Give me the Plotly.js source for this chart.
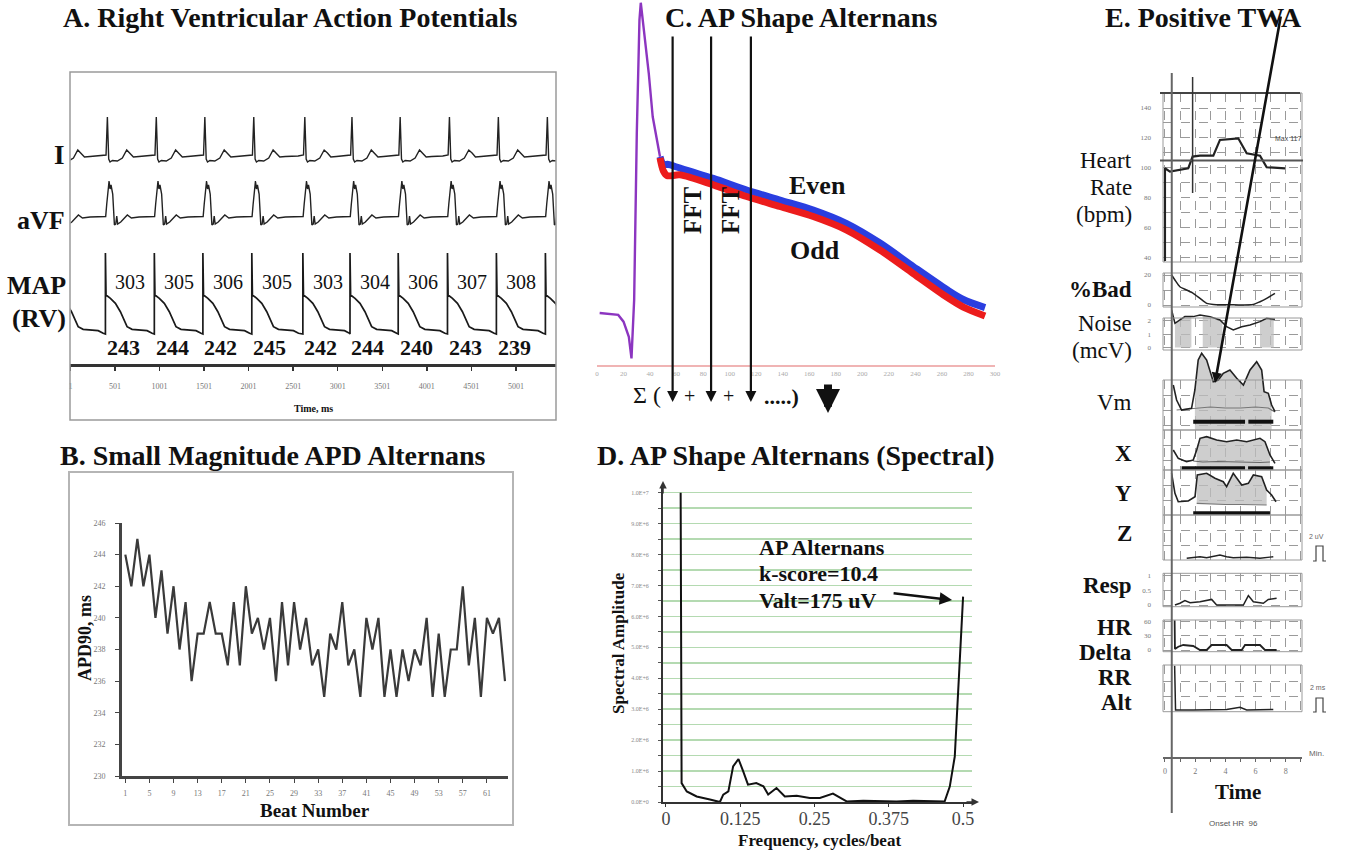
<!DOCTYPE html>
<html>
<head>
<meta charset="utf-8">
<script src="https://cdn.plot.ly/plotly-3.0.1.min.js"></script>
<style>
html, body { margin: 0; padding: 0; background: #ffffff; }
#chart { width: 1346px; height: 854px; }
</style>
</head>
<body>
<div id="chart"></div>
<script>
// ================= DATA =================
// ---- Panel A: surface ECG (I, aVF) and RV monophasic action potential ----
const timeTicks = [1, 501, 1001, 1501, 2001, 2501, 3001, 3501, 4001, 4501, 5001];
const mapOnsets = [-155, 394, 943, 1488, 2037, 2610, 3139, 3680, 4233, 4782, 5332];   // ms
const mapShapeT = [0, 0, 7, 56, 112, 168, 206, 243, 299, 393, 468, 524];             // ms after upstroke
const mapShapeV = [30, 111, 69, 65.7, 60.7, 52.3, 44, 37.3, 34.7, 34, 33.3, 30.7];
const qrsDelay = 22;                                                                // ms, R peak after MAP upstroke
const leadIShapeT = [-75, -15, 0, 15, 30, 56, 112, 168, 217, 254, 292, 355];
const leadIShapeV = [208, 209, 247, 205, 202, 203.5, 203, 206, 214, 211, 207, 207.5];
const aVFShapeT = [-75, -19, -7, 19, 30, 41, 60, 79, 94, 105, 116, 150, 224, 269, 355];
const aVFShapeV = [147, 147.5, 160, 183, 175, 179, 170, 139, 140, 148, 140, 142, 149, 146, 147];
const upperLabels = [303, 305, 306, 305, 303, 304, 306, 307, 308];
const apdLabels = [243, 244, 242, 245, 242, 244, 240, 243, 239];

// ---- Panel B: APD90 per beat ----
const beatNumber = [1,2,3,4,5,6,7,8,9,10,11,12,13,14,15,16,17,18,19,20,21,22,23,24,25,26,27,28,29,30,31,32,
  33,34,35,36,37,38,39,40,41,42,43,44,45,46,47,48,49,50,51,52,53,54,55,56,57,58,59,60,61,62,63,64];
const apd90 = [244,242,245,242,244,240,243,239,242,238,241,236,239,239,241,239,239,237,241,237,242,239,240,238,
  240,236,241,237,241,238,240,237,238,235,239,238,241,237,238,235,240,238,240,235,238,235,238,236,238,237,
  240,235,239,235,238,238,242,237,240,235,240,239,240,236];
const beatTicks = [1, 5, 9, 13, 17, 21, 25, 29, 33, 37, 41, 45, 49, 53, 57, 61];
const apdTicks = [230, 232, 234, 236, 238, 240, 242, 244, 246];

// ---- Panel C: superimposed action potentials (even blue, odd red) ----
const apTicks = [0, 20, 40, 60, 80, 100, 120, 140, 160, 180, 200, 220, 240, 260, 280, 300];
const apUpT = [2, 16, 20, 24, 26, 28, 30, 32, 33, 35, 39, 42, 47.5];
const apUpV = [-85, -85.7, -88.2, -93.8, -101.8, -80.2, -18.4, 23.4, 29.8, 21, 3.8, -12.4, -27.2];
const apRepT = [47.5, 50, 53, 62.6, 87.7, 112.8, 137.9, 163, 188.2, 213.3, 238.4, 263.6, 276.1, 292.5];
const apEvenV = [-27.2, -30.2, -30.0, -31.4, -35.2, -39.5, -43.2, -46.9, -51.9, -59.1, -67.8, -76.3, -80.0, -83.0];
const apOddV = [-27.6, -32.4, -34.2, -33.9, -37.6, -41.9, -45.6, -49.3, -54.3, -61.7, -70.4, -79.1, -82.8, -86.1];
const fftSampleT = [57, 86, 116];

// ---- Panel D: spectrum ----
const freqTicks = [0, 0.125, 0.25, 0.375, 0.5];
const freqLabels = ['0', '0.125', '0.25', '0.375', '0.5'];
const ampTicks = [0, 5e5, 1e6, 1.5e6, 2e6, 2.5e6, 3e6, 3.5e6, 4e6, 4.5e6, 5e6, 5.5e6, 6e6, 6.5e6, 7e6, 7.5e6, 8e6, 8.5e6, 9e6, 9.5e6, 1e7];
const ampLabels = ['0.0E+0','', '1.0E+6','', '2.0E+6','', '3.0E+6','', '4.0E+6','', '5.0E+6','', '6.0E+6','', '7.0E+6','', '8.0E+6','', '9.0E+6','', '1.0E+7'];
const specF = [0.0247, 0.0263, 0.035, 0.0516, 0.074, 0.0908, 0.0964, 0.105, 0.113, 0.122, 0.13, 0.138, 0.152, 0.164, 0.172,
  0.186, 0.2, 0.22, 0.242, 0.259, 0.281, 0.304, 0.332, 0.36, 0.388, 0.416, 0.444, 0.469, 0.4776, 0.486, 0.5];
const specA = [1.0e7, 6.1e5, 3.4e5, 1.8e5, 8e4, 0, 2.4e5, 3.4e5, 1.15e6, 1.39e6, 9.9e5, 5.6e5, 6.1e5, 5.1e5, 2.4e5,
  4.5e5, 1.8e5, 2.0e5, 1.3e5, 1.3e5, 2.7e5, 2e4, 4e4, 2e4, 2e4, 4e4, 2e4, 2e4, 5e5, 1.47e6, 6.64e6];

// ---- Panel E: TWA trend report (time in minutes) ----
const minuteTicks = [0, 1, 2, 3, 4, 5, 6, 7, 8, 9];
const minuteLabels = ['0', '', '2', '', '4', '', '6', '', '8', ''];
const hrT = [0, 0, 0.33, 1.0, 1.54, 1.83, 2.32, 3.2, 3.64, 4.85, 5.41, 6.29, 6.73, 7.95];
const hrV = [38, 99.8, 97.6, 98.7, 99.8, 107.6, 108.2, 108.2, 118.7, 119.8, 109.8, 108.2, 100.5, 99.8];
const hrTicks = [40, 50, 60, 70, 80, 90, 100, 110, 120, 130, 140, 150];
const hrLabels = ['40', '', '60', '', '80', '', '100', '', '120', '', '140', ''];
const badT = [0.44, 0.66, 0.99, 1.43, 1.87, 2.32, 2.76, 3.2, 5.85, 6.29, 6.73, 7.28];
const badV = [20, 16.7, 12.2, 10, 7.8, 4.4, 1.1, 0.4, 0.4, 2.2, 4.4, 7.8];
const noiseT = [0.44, 0.66, 0.99, 1.32, 1.87, 2.32, 2.98, 3.64, 4.08, 4.52, 5.08, 5.63, 6.29, 6.73, 7.28];
const noiseV = [2.82, 1.82, 2.07, 2.32, 2.32, 2.44, 2.32, 2.07, 1.56, 1.32, 1.56, 1.69, 1.94, 2.2, 2.12];
const noiseShade1T = [0.66, 0.99, 1.32, 1.75];
const noiseShade1V = [1.82, 2.07, 2.32, 2.32];
const noiseShade2T = [2.5, 2.98, 3.64, 3.8];
const noiseShade2V = [2.4, 2.32, 2.07, 1.9];
const noiseShade3T = [6.29, 6.73, 7.2];
const noiseShade3V = [1.94, 2.2, 2.13];
const vmT = [0.55, 0.77, 1.1, 1.76, 1.98, 2.2, 2.43, 2.76, 3.2, 3.53, 3.86, 4.3, 4.75, 5.19, 5.63, 6.07, 6.4, 6.56, 6.84, 7.06, 7.28];
const vmV = [45, 30, 20, 21.7, 40, 70, 76.7, 70, 48.3, 50, 56.7, 60, 51.7, 45, 60, 68.3, 60, 38.3, 36.7, 25, 18.3];
const vmNoiseT = [0.77, 1.98, 3.0, 4.0, 5.0, 6.0, 6.84, 7.28];
const vmNoiseV = [20, 22, 23, 22, 22, 23, 22, 18];
const vmBarT = [1.87, 5.3, null, 5.52, 7.17];
const vmBarV = [8.3, 8.3, null, 8.3, 8.3];
const xLeadT = [0.55, 0.88, 1.43, 1.87, 2.1, 2.32, 2.76, 3.42, 4.08, 4.75, 5.41, 6.29, 6.62, 6.95, 7.28];
const xLeadV = [20, 11.7, 8.3, 10, 20, 31.7, 33.3, 30, 28.3, 30, 28.3, 31.7, 28.3, 15, 6.7];
const xNoiseT = [1.87, 2.5, 3.5, 4.5, 5.5, 6.29, 6.95];
const xNoiseV = [9, 8, 8.5, 8, 8, 7.5, 8];
const xBarT = [1.1, 5.3, null, 5.5, 7.17];
const xBarV = [1.7, 1.7, null, 1.7, 1.7];
const yLeadT = [0.44, 0.66, 0.88, 1.54, 1.99, 2.14, 2.76, 3.31, 3.86, 4.08, 4.52, 5.08, 5.52, 5.85, 6.4, 6.73, 7.06, 7.35];
const yLeadV = [41.7, 21.7, 13.3, 14, 18.3, 40, 41.7, 36.7, 33.3, 28.3, 41.7, 30, 31.7, 40, 38.3, 25, 20, 13.3];
const yNoiseT = [2.1, 3.0, 4.0, 5.0, 6.29, 6.73];
const yNoiseV = [11.7, 11, 10.5, 10.5, 10, 10];
const yBarT = [1.87, 6.95];
const yBarV = [1.7, 1.7];
const zLeadT = [1.44, 1.87, 2.32, 2.76, 3.2, 3.64, 4.08, 4.52, 5.41, 6.29, 7.17];
const zLeadV = [1.7, 2.7, 3.3, 2.3, 4, 5, 3.3, 2.3, 2.7, 1.7, 3.3];
const respT = [0.66, 0.99, 1.32, 1.66, 2.32, 2.87, 3.09, 3.42, 5.19, 5.52, 5.85, 6.51, 6.84, 7.39];
const respV = [0, 0.06, 0.15, 0.08, 0.11, 0.17, 0.19, 0, 0, 0.32, 0.11, 0.06, 0.19, 0.23];
const hrDeltaT = [0.64, 0.66, 0.88, 1.21, 1.87, 2.32, 2.76, 3.09, 4.08, 4.42, 5.08, 5.3, 6.29, 6.62, 7.39];
const hrDeltaV = [63, 2, 7, 10.6, 8.5, 0, 0, 10.6, 10.6, 0, 0, 10.6, 10.6, 0, 0];
const rrAltT = [0.64, 0.7, 1.87, 4.08, 4.97, 5.41, 7.17];
const rrAltV = [46, 1.7, 1.7, 2.3, 4.4, 1.7, 2.3];
const onsetMinute = 0.45;
const hrSpikeMinute = 1.83;
const hrThreshold = 105;

// ================= HELPERS =================
const W = 1346, H = 854;
const SERIF = '"Liberation Serif", "Times New Roman", serif';
const SANS = '"Liberation Sans", Arial, sans-serif';
const PX = p => p / W;
const PY = p => 1 - p / H;
const domX = (a, b) => [a / W, b / W];
const domY = (top, bot) => [1 - bot / H, 1 - top / H];

function buildBeats(onsets, shapeT, shapeV, offset) {
  const t = [], v = [];
  onsets.forEach((o, i) => {
    const limit = i + 1 < onsets.length ? onsets[i + 1] + offset + shapeT[0] : Infinity;
    shapeT.forEach((dt, j) => {
      const tt = o + offset + dt;
      if (tt < limit) { t.push(tt); v.push(shapeV[j]); }
    });
  });
  return { t, v };
}
const leadI = buildBeats(mapOnsets, leadIShapeT, leadIShapeV, qrsDelay);
const leadAVF = buildBeats(mapOnsets, aVFShapeT, aVFShapeV, qrsDelay);
const mapRV = buildBeats(mapOnsets, mapShapeT, mapShapeV, 0);

function txt(x, y, text, size, o = {}) {
  return Object.assign({
    xref: 'paper', yref: 'paper', x: PX(x), y: PY(y), text: text, showarrow: false,
    xanchor: 'center', yanchor: 'middle',
    font: { family: SERIF, size: size, color: '#111' }
  }, o);
}
const bold = t => '<b>' + t + '</b>';
function pathPx(pts) {
  return 'M ' + pts.map(p => PX(p[0]) + ',' + PY(p[1])).join(' L ');
}

// ================= TRACES =================
const ln = (x, y, xa, ya, color, width, extra = {}) => Object.assign({
  x: x, y: y, xaxis: xa, yaxis: ya, type: 'scatter', mode: 'lines',
  line: { color: color, width: width }, hoverinfo: 'skip', showlegend: false
}, extra);
const SHADE = 'rgba(190,190,190,0.75)';

const traces = [
  // A
  ln(leadI.t, leadI.v, 'x', 'y', '#222', 1.4),
  ln(leadAVF.t, leadAVF.v, 'x', 'y', '#222', 1.4),
  ln(mapRV.t, mapRV.v, 'x', 'y', '#1a1a1a', 1.7),
  // B
  ln(beatNumber, apd90, 'x2', 'y2', '#3a3a3a', 2.2),
  // C
  ln(apRepT, apEvenV, 'x3', 'y3', '#2a3ee0', 7, { line: { color: '#2a3ee0', width: 7, shape: 'spline', smoothing: 0.8 } }),
  ln(apRepT, apOddV, 'x3', 'y3', '#ec1c1c', 7, { line: { color: '#ec1c1c', width: 7, shape: 'spline', smoothing: 0.8 } }),
  ln(apUpT, apUpV, 'x3', 'y3', '#8c35c0', 2.4),
  // D
  ln(specF, specA, 'x4', 'y4', '#111', 2),
  // E
  ln(hrT, hrV, 'x5', 'y5', '#222', 2.2),
  ln(badT, badV, 'x5', 'y6', '#222', 1.5, { line: { color: '#222', width: 1.5, shape: 'spline', smoothing: 0.6 } }),
  ln([], [], 'x5', 'y7', '#222', 1),
  ln(noiseShade1T, noiseShade1V, 'x6', 'y8', SHADE, 0, { fill: 'tozeroy', fillcolor: SHADE }),
  ln(noiseShade2T, noiseShade2V, 'x6', 'y8', SHADE, 0, { fill: 'tozeroy', fillcolor: SHADE }),
  ln(noiseShade3T, noiseShade3V, 'x6', 'y8', SHADE, 0, { fill: 'tozeroy', fillcolor: SHADE }),
  ln(noiseT, noiseV, 'x6', 'y8', '#222', 1.5),
  ln([], [], 'x5', 'y9', '#222', 1),
  ln(vmT.slice(4, 20), vmV.slice(4, 20), 'x6', 'y10', SHADE, 0, { fill: 'tozeroy', fillcolor: SHADE }),
  ln(vmNoiseT, vmNoiseV, 'x6', 'y10', '#777', 1.2),
  ln(vmT, vmV, 'x6', 'y10', '#222', 1.6),
  ln(vmBarT, vmBarV, 'x6', 'y10', '#111', 4),
  ln(xLeadT.slice(4, 14), xLeadV.slice(4, 14), 'x5', 'y11', SHADE, 0, { fill: 'tozeroy', fillcolor: SHADE }),
  ln(xNoiseT, xNoiseV, 'x5', 'y11', '#666', 1.2),
  ln(xLeadT, xLeadV, 'x5', 'y11', '#222', 1.6),
  ln(xBarT, xBarV, 'x5', 'y11', '#111', 4),
  ln(yNoiseT, yNoiseV, 'x5', 'y12', '#777', 1.2),
  ln(yLeadT.slice(5, 16), yLeadV.slice(5, 16), 'x5', 'y12', SHADE, 0, { fill: 'tonexty', fillcolor: SHADE }),
  ln(yLeadT, yLeadV, 'x5', 'y12', '#222', 1.6),
  ln(yBarT, yBarV, 'x5', 'y12', '#111', 4),
  ln(zLeadT, zLeadV, 'x5', 'y13', '#222', 1.4),
  ln(respT, respV, 'x5', 'y14', '#222', 1.5),
  ln(hrDeltaT, hrDeltaV, 'x5', 'y15', '#222', 1.8),
  ln(rrAltT, rrAltV, 'x5', 'y16', '#222', 1.5)
];

// ================= AXES =================
const tinyTick = (size, color) => ({ family: SERIF, size: size, color: color });
const hidden = { visible: false, showgrid: false, zeroline: false };

const eBoxAxis = (top, bot, range, vals, labels) => ({
  domain: domY(top, bot), range: range, anchor: 'x5',
  tickmode: 'array', tickvals: vals, ticktext: labels, ticks: '',
  showgrid: true, gridcolor: '#9a9a9a', griddash: 'dash', gridwidth: 1,
  zeroline: false, showline: false, tickfont: tinyTick(7, '#777'), ticklabelstandoff: 11
});

const layout = {
  width: W, height: H,
  margin: { l: 0, r: 0, t: 0, b: 0 },
  paper_bgcolor: '#ffffff', plot_bgcolor: 'rgba(0,0,0,0)',
  showlegend: false, hovermode: false,
  font: { family: SERIF, color: '#111' },

  // A
  xaxis: {
    domain: domX(70.4, 556), range: [1, 5451], anchor: 'y',
    tickmode: 'array', tickvals: timeTicks, ticks: 'outside', ticklen: 4, tickwidth: 1.5, tickcolor: '#333',
    showline: true, linecolor: '#333', linewidth: 2.5, showgrid: false, zeroline: false,
    tickfont: tinyTick(8, '#777'), ticklabelstandoff: 9
  },
  yaxis: Object.assign({ domain: domY(72, 364), range: [0, 292], anchor: 'x' }, hidden),

  // B
  xaxis2: {
    domain: domX(121.7, 508), range: [0.4, 64.5], anchor: 'y2',
    tickmode: 'array', tickvals: beatTicks, ticks: 'outside', ticklen: 4, tickcolor: '#444',
    showline: true, linecolor: '#444', linewidth: 2.5, showgrid: false, zeroline: false,
    tickfont: tinyTick(8, '#777'), ticklabelstandoff: 4
  },
  yaxis2: {
    domain: domY(523, 776), range: [230, 246], anchor: 'x2',
    tickmode: 'array', tickvals: apdTicks, ticks: 'outside', ticklen: 4, tickcolor: '#444',
    showline: true, linecolor: '#444', linewidth: 2.5, showgrid: false, zeroline: false,
    tickfont: tinyTick(8, '#777'), ticklabelstandoff: 8
  },

  // C
  xaxis3: {
    domain: domX(597, 995), range: [0, 300], anchor: 'y3',
    tickmode: 'array', tickvals: apTicks, ticks: '',
    showline: true, linecolor: '#f0b4b4', linewidth: 1.5, showgrid: false, zeroline: false,
    tickfont: tinyTick(7, '#aaa'), ticklabelstandoff: 1
  },
  yaxis3: Object.assign({ domain: domY(0, 365), range: [-104.24, 30.81], anchor: 'x3' }, hidden),

  // D
  xaxis4: {
    domain: domX(663, 972), range: [-0.005, 0.515], anchor: 'y4',
    tickmode: 'array', tickvals: freqTicks, ticktext: freqLabels, ticks: 'outside', ticklen: 3, tickcolor: '#333',
    showline: true, linecolor: '#333', linewidth: 2, showgrid: false, zeroline: false,
    tickfont: tinyTick(18, '#444'), ticklabelstandoff: -4
  },
  yaxis4: {
    domain: domY(485, 802), range: [0, 1.0249e7], anchor: 'x4',
    tickmode: 'array', tickvals: ampTicks, ticktext: ampLabels, ticks: 'outside', ticklen: 3, tickcolor: '#555',
    showline: true, linecolor: '#333', linewidth: 2, showgrid: true, gridcolor: '#b4dab1', gridwidth: 1.5,
    zeroline: false, tickfont: tinyTick(6, '#888'), ticklabelstandoff: 8
  },

  // E
  xaxis5: {
    domain: domX(1163, 1302), range: [-0.13, 9.07], anchor: 'free', position: PY(757),
    tickmode: 'array', tickvals: minuteTicks, ticktext: minuteLabels, ticks: 'outside', ticklen: 3, tickcolor: '#666',
    showline: true, linecolor: '#666', linewidth: 1.5,
    showgrid: true, gridcolor: '#9a9a9a', griddash: 'dash', gridwidth: 1, zeroline: false,
    tickfont: tinyTick(8, '#777'), ticklabelstandoff: 3
  },
  xaxis6: Object.assign({ domain: domX(1163, 1302), range: [-0.13, 9.07], anchor: 'y8' }, hidden),
  yaxis5: eBoxAxis(93, 262, [37.3, 150], hrTicks, hrLabels),
  yaxis6: eBoxAxis(273, 307, [-1.33, 21.33], [0, 10, 20], ['0', '', '20']),
  yaxis7: eBoxAxis(318, 350, [-0.19, 2.22], [0, 1, 2], ['0', '1', '2']),
  yaxis8: Object.assign({ domain: domY(300, 350), range: [-0.19, 3.57], anchor: 'x6' }, hidden),
  yaxis9: eBoxAxis(380, 430, [0, 50], [5, 20, 35], ['', '', '']),
  yaxis10: Object.assign({ domain: domY(345, 430), range: [0, 85], anchor: 'x6' }, hidden),
  yaxis11: eBoxAxis(430, 470, [0, 40], [10, 25], ['', '']),
  yaxis12: eBoxAxis(470, 515, [0, 45], [15, 30], ['', '']),
  yaxis13: eBoxAxis(515, 560, [0, 45], [15, 30], ['', '']),
  yaxis14: eBoxAxis(573.3, 606.7, [-0.058, 1.082], [0, 0.5, 1], ['0', '0.5', '1']),
  yaxis15: eBoxAxis(620, 651.7, [-3.6, 63.6], [0, 30, 60], ['0', '30', '60']),
  yaxis16: eBoxAxis(665, 711.7, [0, 46.7], [15, 30], ['', ''])
};

// ================= SHAPES =================
const shapes = [
  { type: 'rect', xref: 'paper', yref: 'paper', x0: PX(70), x1: PX(556), y0: PY(420), y1: PY(72), line: { color: '#9a9a9a', width: 1.5 } },
  { type: 'rect', xref: 'paper', yref: 'paper', x0: PX(69), x1: PX(513), y0: PY(825), y1: PY(472), line: { color: '#b5b5b5', width: 2 } }
];
['y5', 'y6', 'y7', 'y9', 'y11', 'y12', 'y13', 'y14', 'y15', 'y16'].forEach(ya => {
  shapes.push({ type: 'rect', xref: 'x5 domain', yref: ya + ' domain', x0: 0, x1: 1, y0: 0, y1: 1, line: { color: '#9a9a9a', width: 1 } });
});
shapes.push(
  { type: 'line', xref: 'paper', yref: 'paper', x0: PX(1160), x1: PX(1300), y0: PY(93), y1: PY(93), line: { color: '#444', width: 2 } },
  { type: 'line', xref: 'paper', yref: 'y5', x0: PX(1160), x1: PX(1303), y0: hrThreshold, y1: hrThreshold, line: { color: '#555', width: 2 } },
  { type: 'line', xref: 'x5', yref: 'paper', x0: onsetMinute, x1: onsetMinute, y0: PY(813), y1: PY(73), line: { color: '#666', width: 2 } },
  { type: 'line', xref: 'x5', yref: 'paper', x0: hrSpikeMinute, x1: hrSpikeMinute, y0: PY(193), y1: PY(77), line: { color: '#333', width: 1.5 } },
  { type: 'path', xref: 'paper', yref: 'paper', path: pathPx([[1313, 561], [1316, 561], [1316, 546], [1323, 546], [1323, 561], [1326, 561]]), line: { color: '#444', width: 1.2 } },
  { type: 'path', xref: 'paper', yref: 'paper', path: pathPx([[1313, 712], [1316, 712], [1316, 698], [1323, 698], [1323, 712], [1326, 712]]), line: { color: '#444', width: 1.2 } }
);
layout.shapes = shapes;

// ================= ANNOTATIONS =================
const ann = [];
// titles
ann.push(txt(290, 17, bold('A. Right Ventricular Action Potentials'), 28));
ann.push(txt(273, 455, bold('B. Small Magnitude APD Alternans'), 28));
ann.push(txt(801, 17, bold('C. AP Shape Alternans'), 28));
ann.push(txt(795, 455, bold('D. AP Shape Alternans (Spectral)'), 28));
ann.push(txt(1203, 17, bold('E. Positive TWA'), 28));

// Panel A labels
ann.push(txt(67, 155, bold('I'), 27, { xanchor: 'right' }));
ann.push(txt(67, 220, bold('aVF'), 26, { xanchor: 'right' }));
ann.push(txt(68, 285, bold('MAP'), 26, { xanchor: 'right' }));
ann.push(txt(68, 318, bold('(RV)'), 26, { xanchor: 'right' }));
ann.push(txt(313, 408, bold('Time, ms'), 10));
upperLabels.forEach((lab, i) => {
  ann.push({ xref: 'x', yref: 'y', x: mapOnsets[i + 1] + 280, y: 82, text: String(lab), showarrow: false,
    font: { family: SERIF, size: 20, color: '#111' } });
});
apdLabels.forEach((lab, i) => {
  ann.push({ xref: 'x', yref: 'y', x: mapOnsets[i + 1] + 200, y: 17, text: bold(String(lab)), showarrow: false,
    font: { family: SERIF, size: 22, color: '#111' } });
});

// Panel B axis titles
ann.push(txt(315, 810, bold('Beat Number'), 19));
ann.push(txt(85, 638, bold('APD90, ms'), 18, { textangle: -90 }));

// Panel C
ann.push(txt(818, 185, bold('Even'), 26));
ann.push(txt(815, 250, bold('Odd'), 26));
ann.push(txt(692, 210, bold('FFT'), 25, { textangle: -90 }));
ann.push(txt(730, 210, bold('FFT'), 25, { textangle: -90 }));
fftSampleT.forEach(t => {
  ann.push({ xref: 'x3', yref: 'paper', x: t, y: PY(402), ax: 0, ay: -367, text: '', showarrow: true,
    arrowhead: 2, arrowsize: 1, arrowwidth: 2.2, arrowcolor: '#111' });
});
ann.push(txt(647, 395, 'Σ (', 24));
ann.push(txt(689, 396, '+', 20));
ann.push(txt(728, 396, '+', 20));
ann.push(txt(781, 396, bold('.....)'), 22));
ann.push({ xref: 'paper', yref: 'paper', x: PX(828), y: PY(413), ax: 0, ay: -30, text: '', showarrow: true,
  arrowhead: 2, arrowsize: 0.6, arrowwidth: 8, arrowcolor: '#111' });

// Panel D
ann.push(txt(618, 643, bold('Spectral Amplitude'), 17, { textangle: -90 }));
ann.push(txt(820, 840, bold('Frequency, cycles/beat'), 17));
ann.push(txt(757, 547, bold('AP Alternans'), 22, { xanchor: 'left' }));
ann.push(txt(757, 573, bold('k-score=10.4'), 22, { xanchor: 'left' }));
ann.push(txt(757, 600, bold('Valt=175 uV'), 22, { xanchor: 'left' }));
ann.push({ xref: 'x4', yref: 'y4', x: 0.4815, y: 6.53e6, ax: -60, ay: -7, text: '', showarrow: true,
  arrowhead: 2, arrowsize: 1, arrowwidth: 2.5, arrowcolor: '#111' });
ann.push({ xref: 'paper', yref: 'paper', x: PX(663), y: PY(481), ax: 0, ay: 14, text: '', showarrow: true,
  arrowhead: 2, arrowsize: 1, arrowwidth: 1.5, arrowcolor: '#333' });
ann.push({ xref: 'paper', yref: 'paper', x: PX(979), y: PY(802), ax: -14, ay: 0, text: '', showarrow: true,
  arrowhead: 2, arrowsize: 1, arrowwidth: 1.5, arrowcolor: '#333' });

// Panel E
const eLabels = [
  ['Heart', 160, false], ['Rate', 187, false], ['(bpm)', 215, false], ['%Bad', 290, true],
  ['Noise', 323, false], ['(mcV)', 350, false], ['Vm', 402, false], ['X', 453, true], ['Y', 493, true],
  ['Z', 533, true], ['Resp', 585, true], ['HR', 627, true], ['Delta', 652, true], ['RR', 677, true], ['Alt', 702, true]
];
eLabels.forEach(([t, y, b]) => ann.push(txt(1134, y, b ? bold(t) : t, 23, { xanchor: 'right' })));
ann.push(txt(1238, 792, bold('Time'), 21));
ann.push(txt(1316, 753, 'Min.', 8, { font: { family: SANS, size: 8, color: '#666' } }));
ann.push(txt(1233, 823, 'Onset HR  96', 8, { font: { family: SANS, size: 8, color: '#555' } }));
ann.push(txt(1288, 139, 'Max 117', 7, { font: { family: SANS, size: 7, color: '#444' } }));
ann.push(txt(1316, 536, '2 uV', 7, { font: { family: SANS, size: 7, color: '#666' } }));
ann.push(txt(1318, 687, '2 ms', 7, { font: { family: SANS, size: 7, color: '#666' } }));
ann.push({ xref: 'paper', yref: 'paper', x: PX(1215), y: PY(383), ax: 66, ay: -368, text: '', showarrow: true,
  arrowhead: 2, arrowsize: 0.8, arrowwidth: 2.6, arrowcolor: '#111' });
layout.annotations = ann;

Plotly.newPlot('chart', traces, layout, { staticPlot: true, displayModeBar: false });
</script>
</body>
</html>
